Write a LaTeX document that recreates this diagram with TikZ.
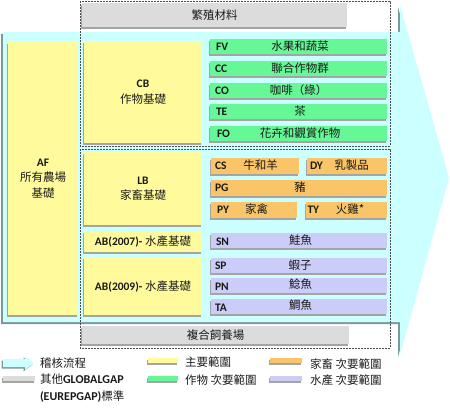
\documentclass[tikz,border=0pt]{standalone}
\usepackage{fontspec}
\setmainfont{Carlito}
\newfontfamily\cjk{Noto Sans CJK TC}
\usetikzlibrary{shadows}
\definecolor{arrcyan}{HTML}{CCFFFF}
\definecolor{arrshadow}{HTML}{7A9A9A}
\definecolor{yel}{HTML}{FFFB9C}
\definecolor{grn}{HTML}{66F797}
\definecolor{org}{HTML}{FAC468}
\definecolor{pur}{HTML}{CCCCF8}
\definecolor{gry}{HTML}{DCDCDC}
\definecolor{shd}{HTML}{A4A4A4}
\definecolor{txt}{HTML}{1A1A1A}
\newcommand\zhfont{\mdseries\cjk\fontsize{11.5}{14}\selectfont}
\newcommand\zhin{\mdseries\cjk}
\newcommand\latfont{\bfseries\fontsize{11.5}{15.5}\selectfont}
\newcommand\legfont{\bfseries\fontsize{12}{17}\selectfont}
\begin{document}
\begin{tikzpicture}[x=1pt,y=-1pt,
  base/.style={inner sep=0pt, outer sep=0pt, text=txt},
  sbox/.style={base, anchor=north west,
    drop shadow={shadow xshift=-1.5pt, shadow yshift=-2pt, fill=shd, opacity=1}},
  wh/.style 2 args={minimum width=#1pt, minimum height=#2pt},
  ybox/.style={sbox, fill=yel, align=center, font=\latfont},
  gbox/.style={sbox, fill=grn},
  obox/.style={sbox, fill=org},
  pbox/.style={sbox, fill=pur},
  graybar/.style={sbox, fill=gry, font=\zhfont},
  code/.style={base, anchor=west, font=\latfont},
  zh/.style={base, font=\zhfont},
  dashbox/.style={draw=black!70, dash pattern=on 2pt off 1pt, line width=0.8pt},
  legtext/.style={base, anchor=west, font=\zhfont}
]
\useasboundingbox (0,0) rectangle (450,412);
% big process arrow
\fill[arrshadow] (1,34) -- (398,34) -- (398,7) -- (447,180) -- (398,357) -- (398,324) -- (1,324) -- cycle;
\fill[arrcyan] (3,32) -- (400,32) -- (400,5) -- (449,178) -- (400,355) -- (400,322) -- (3,322) -- cycle;
% dashed frames
\draw[dashbox] (80,1) rectangle (390,146);
\draw[dashbox] (80,149) rectangle (390,348);
% gray bars
\node[graybar, wh={265}{24}] (prop) at (82,3) {繁殖材料};
\node[graybar, wh={267}{18}] (ifa) at (82,326) {複合飼養場};
% yellow main scopes
\node[ybox, wh={70}{273}] (af) at (8,42) {AF\\{\zhin 所有農場}\\{\zhin 基礎}};
\node[ybox, wh={118}{102}] (cb) at (84,41) {CB\\{\zhin 作物基礎}};
\node[ybox, wh={118}{73}] (lb) at (84,152) {LB\\{\zhin 家畜基礎}};
\node[ybox, wh={118}{21}] (ab7) at (84,231) {AB(2007)- {\zhin 水產基礎}};
\node[ybox, wh={118}{58}] (ab9) at (84,257) {AB(2009)- {\zhin 水產基礎}};
% crops
\node[gbox, wh={177}{15}] (fv) at (210,39) {};
\node[gbox, wh={177}{15}] (cc) at (210,61) {};
\node[gbox, wh={177}{15}] (co) at (210,83) {};
\node[gbox, wh={177}{15}] (te) at (210,104) {};
\node[gbox, wh={177}{15}] (fo) at (210,126) {};
\node[code] (fvc) at ([xshift=6pt]fv.west) {FV};
\node[code] (ccc) at ([xshift=5pt]cc.west) {CC};
\node[code] (coc) at ([xshift=5pt]co.west) {CO};
\node[code] (tec) at ([xshift=6pt]te.west) {TE};
\node[code] (foc) at ([xshift=7pt]fo.west) {FO};
\node[zh] (fvt) at ([xshift=1.5pt]fv.center) {水果和蔬菜};
\node[zh] (cct) at ([xshift=1.5pt]cc.center) {聯合作物群};
\node[zh] (cot) at ([xshift=0pt]co.center) {咖啡（綠）};
\node[zh] (tet) at ([xshift=1.5pt]te.center) {茶};
\node[zh] (fot) at ([xshift=1.5pt]fo.center) {花卉和觀賞作物};
% livestock
\node[obox, wh={88}{16}] (cs) at (211,158) {};
\node[obox, wh={80}{16}] (dy) at (307,158) {};
\node[obox, wh={176}{16}] (pg) at (211,180) {};
\node[obox, wh={86}{16}] (py) at (211,202) {};
\node[obox, wh={81}{16}] (ty) at (306,202) {};
\node[code] (csc) at ([xshift=4pt]cs.west) {CS};
\node[code] (dyc) at ([xshift=3pt]dy.west) {DY};
\node[code] (pgc) at ([xshift=4pt]pg.west) {PG};
\node[code] (pyc) at ([xshift=6pt]py.west) {PY};
\node[code] (tyc) at ([xshift=1.5pt]ty.west) {TY};
\node[zh] (cst) at (260.5,165.5) {牛和羊};
\node[zh] (dyt) at (351.5,165.5) {乳製品};
\node[zh] (pgt) at (300,187.5) {豬};
\node[zh] (pyt) at (256.5,209.5) {家禽};
\node[zh] (tyt) at (350,209.5) {火雞*};
% aquaculture
\node[pbox, wh={176}{15}] (sn) at (211,233) {};
\node[pbox, wh={176}{15}] (sp) at (211,258) {};
\node[pbox, wh={176}{15}] (pn) at (211,278) {};
\node[pbox, wh={176}{15}] (ta) at (211,299) {};
\node[code] (snc) at ([xshift=5pt,yshift=-1pt]sn.west) {SN};
\node[code] (spc) at ([xshift=4pt]sp.west) {SP};
\node[code] (pnc) at ([xshift=4pt,yshift=-1pt]pn.west) {PN};
\node[code] (tac) at ([xshift=4pt,yshift=-1pt]ta.west) {TA};
\node[zh] (snt) at ([xshift=1.5pt,yshift=0.5pt]sn.center) {鮭魚};
\node[zh] (spt) at ([xshift=1pt]sp.center) {蝦子};
\node[zh] (pnt) at ([xshift=1.5pt,yshift=1pt]pn.center) {鯰魚};
\node[zh] (tat) at ([xshift=1.5pt,yshift=1pt]ta.center) {鯛魚};
% legend
\fill[arrshadow] (1.5,360.5) -- (23.5,360.5) -- (23.5,357.5) -- (32.5,364.5) -- (23.5,371.5) -- (23.5,368.5) -- (1.5,368.5) -- cycle;
\fill[arrcyan] (3,359) -- (25,359) -- (25,356) -- (34,363) -- (25,370) -- (25,367) -- (3,367) -- cycle;
\node[sbox, fill=gry, wh={32}{5}] (lg) at (3,376) {};
\node[sbox, fill=yel, wh={30}{5}] (ly) at (148,358) {};
\node[sbox, fill=grn, wh={30}{5}] (lgr) at (148,376) {};
\node[sbox, fill=org, wh={32}{5}] (lo) at (270,358) {};
\node[sbox, fill=pur, wh={32}{5}] (lp) at (270,376) {};
\node[legtext] (lt1) at (40,363) {稽核流程};
\node[base, anchor=west, align=left, font=\legfont] (lt2) at (40,388.5) {{\zhfont 其他}GLOBALGAP\\(EUREPGAP){\zhfont 標準}};
\node[legtext] (lt3) at (185,362) {主要範圍};
\node[legtext] (lt4) at (185,380) {作物 次要範圍};
\node[legtext] (lt5) at (310,364) {家畜 次要範圍};
\node[legtext] (lt6) at (310,380) {水產 次要範圍};
\end{tikzpicture}
\end{document}
